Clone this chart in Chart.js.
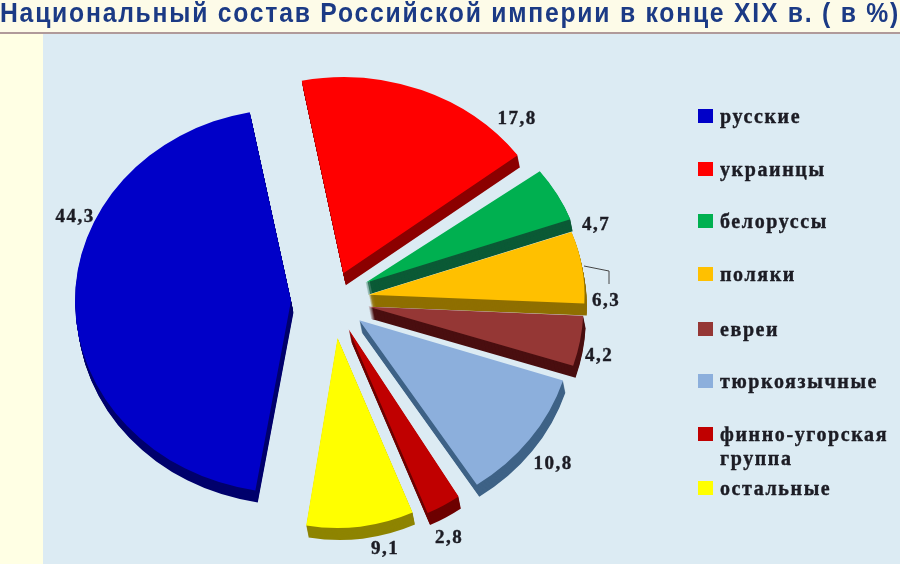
<!DOCTYPE html>
<html>
<head>
<meta charset="utf-8">
<style>
  html, body { margin: 0; padding: 0; width: 900px; height: 564px; overflow: hidden; background: #fdfbe8; }
  #strip { position: absolute; left: 0; top: 34px; width: 43px; height: 530px; background: #ffffe4; }
  #rule { position: absolute; left: 0; top: 32px; width: 900px; height: 2px; background: #b09a9a; }
  #panel { position: absolute; left: 43px; top: 34px; width: 857px; height: 530px; background: #dcebf3; }
  canvas { position: absolute; left: 0; top: 0; filter: blur(0.4px); }
</style>
</head>
<body>
<div id="strip"></div>
<div id="panel"></div>
<div id="rule"></div>
<canvas id="myChart" width="900" height="564"></canvas>
<script src="https://cdn.jsdelivr.net/npm/chart.js@4"></script>
<script>
var chartTitle = 'Национальный состав Российской империи в конце XIX в. ( в %)';
var categories = ['русские', 'украинцы', 'белоруссы', 'поляки', 'евреи', 'тюркоязычные', 'финно-угорская группа', 'остальные'];
var shares = [44.3, 17.8, 4.7, 6.3, 4.2, 10.8, 2.8, 9.1];

var sliceColors = ['#0000c8', '#ff0000', '#00b050', '#ffc000', '#953735', '#8cafdc', '#c00000', '#ffff00'];
var wallColors = ['#00006c', '#8c0000', '#0b5a36', '#8f6f00', '#4a0f10', '#3e6286', '#6e0000', '#8e8400'];
var sliceShift = [42, 29, 37, 36, 36, 33, 33, 38];
var sliceRadii = [216, 218, 218, 216, 215, 214, 200, 190];
var sliceSquash = [0.89, 0.9, 0.85, 0.85, 0.9, 0.92, 1, 1];
var valueLabelX = [75, 517, 596, 606, 599, 553, 449, 385];
var valueLabelY = [217, 119, 225, 301, 356, 464, 538, 549];
var legendRowY = [118, 171, 223, 276, 331, 383, 436, 490];
var pieShiftX = -117; // the pie sits left of the chart area, the legend is on the right

var serif = '"Liberation Serif", serif';

// draws one arc pushed out from the centre and squashed about its tip
function drawSlice(ctx, arc, i, dx, dy) {
    var mid = (arc.startAngle + arc.endAngle) / 2;
    var s = sliceSquash[i];
    var moveX = Math.cos(mid) * sliceShift[i] + pieShiftX;
    var moveY = Math.sin(mid) * sliceShift[i];
    ctx.save();
    ctx.translate(dx + moveX, dy + moveY + arc.y * (1 - s));
    ctx.scale(1, s);
    arc.draw(ctx);
    ctx.restore();
}

var pie3d = {
    id: 'pie3d',
    beforeDraw: function (chart) {
        chart.ctx.letterSpacing = '2px'; // the title is set wide
    },
    afterDatasetsUpdate: function (chart) {
        chart.getDatasetMeta(0).data.forEach(function (arc, i) {
            arc.outerRadius = sliceRadii[i];
        });
    },
    beforeDatasetDraw: function (chart) {
        var ctx = chart.ctx;
        ctx.letterSpacing = '0px';
        var arcs = chart.getDatasetMeta(0).data;
        arcs.forEach(function (arc, i) {
            var top = arc.options;
            arc.options = Object.assign({}, top, { backgroundColor: wallColors[i] });
            for (var k = 12; k > 0; k--) {
                drawSlice(ctx, arc, i, k * 0.2, k);
            }
            arc.options = top;
        });
        arcs.forEach(function (arc, i) {
            drawSlice(ctx, arc, i, 0, 0);
        });
        return false;
    }
};

var labelsAndLegend = {
    id: 'labelsAndLegend',
    afterDraw: function (chart) {
        var ctx = chart.ctx;
        ctx.save();
        ctx.textBaseline = 'middle';
        ctx.fillStyle = '#1c1c24';
        ctx.strokeStyle = '#1c1c24';
        ctx.lineWidth = 0.4;

        ctx.textAlign = 'center';
        ctx.font = 'bold 19px ' + serif;
        ctx.letterSpacing = '1.5px';
        shares.forEach(function (v, i) {
            var txt = v.toFixed(1).replace('.', ',');
            ctx.fillText(txt, valueLabelX[i], valueLabelY[i]);
            ctx.strokeText(txt, valueLabelX[i], valueLabelY[i]);
        });

        // leader line for 6,3
        ctx.strokeStyle = '#444';
        ctx.lineWidth = 1;
        ctx.beginPath();
        ctx.moveTo(584, 266);
        ctx.lineTo(609, 271);
        ctx.lineTo(609, 284);
        ctx.stroke();

        ctx.textAlign = 'left';
        ctx.font = 'bold 20px ' + serif;
        ctx.letterSpacing = '1.6px';
        ctx.strokeStyle = '#1c1c24';
        ctx.lineWidth = 0.4;
        categories.forEach(function (name, i) {
            var y = legendRowY[i];
            ctx.fillStyle = sliceColors[i];
            ctx.fillRect(698, y - 9, 15, 14);
            ctx.fillStyle = '#1c1c24';
            var words = name.length > 14 ? name.split(' ') : [name];
            words.forEach(function (w, n) {
                ctx.fillText(w, 720, y + n * 24);
                ctx.strokeText(w, 720, y + n * 24);
            });
        });
        ctx.restore();
    }
};

var ctx = document.getElementById('myChart').getContext('2d');

var myChart = new Chart(ctx, {
    type: 'pie',
    data: {
        labels: categories,
        datasets: [{
            data: shares,
            backgroundColor: sliceColors,
            borderWidth: 0
        }]
    },
    options: {
        responsive: false,
        animation: false,
        devicePixelRatio: 1,
        rotation: -170.5,
        radius: 216,
        layout: { padding: { left: 0, right: 0, top: 0, bottom: 40 } },
        plugins: {
            legend: { display: false },
            tooltip: { enabled: false },
            title: {
                display: true,
                text: chartTitle,
                align: 'start',
                color: '#1b3a85',
                font: { family: '"Liberation Sans", sans-serif', size: 28, weight: 'bold' },
                padding: { top: -3, bottom: 46 }
            }
        }
    },
    plugins: [pie3d, labelsAndLegend]
});
</script>
</body>
</html>
